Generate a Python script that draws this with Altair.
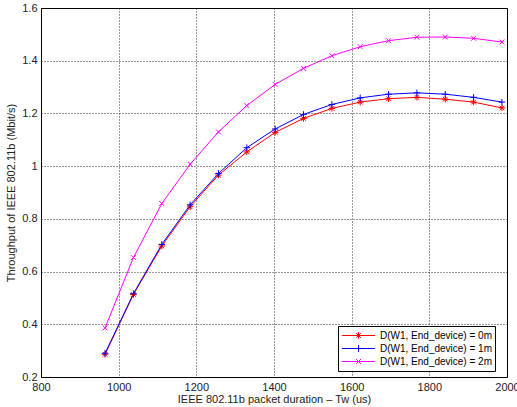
import altair as alt
import pandas as pd

# ---- data ----
x_us = [965, 1038, 1111, 1184, 1257, 1330, 1403, 1476, 1549, 1622, 1695, 1768, 1841, 1914, 1987]
thr_0m = [0.286, 0.513, 0.697, 0.846, 0.966, 1.054, 1.128, 1.181, 1.219, 1.243, 1.256, 1.261, 1.254, 1.243, 1.221]
thr_1m = [0.290, 0.516, 0.703, 0.853, 0.972, 1.070, 1.141, 1.196, 1.234, 1.259, 1.273, 1.278, 1.273, 1.261, 1.243]
thr_2m = [0.386, 0.653, 0.858, 1.007, 1.130, 1.230, 1.310, 1.371, 1.419, 1.453, 1.476, 1.489, 1.490, 1.485, 1.471]
series_names = ["D(W1, End_device) = 0m", "D(W1, End_device) = 1m", "D(W1, End_device) = 2m"]
series_colors = ["#ff0000", "#0000ff", "#ff00ff"]
x_ticks = [800, 1000, 1200, 1400, 1600, 1800, 2000]
y_ticks = [0.2, 0.4, 0.6, 0.8, 1.0, 1.2, 1.4, 1.6]

rows = []
for name, vals in zip(series_names, [thr_0m, thr_1m, thr_2m]):
    for xv, yv in zip(x_us, vals):
        rows.append({"x": xv, "y": yv, "series": name})
df = pd.DataFrame(rows)
legend_df = pd.DataFrame({"series": series_names})

# marker paths (plot) : *, +, x
star = "M-1,0H1M0,-1V1M-0.7,-0.7L0.7,0.7M-0.7,0.7L0.7,-0.7"
plus = "M-1,0H1M0,-1V1"
cross = "M-0.75,-0.75L0.75,0.75M-0.75,0.75L0.75,-0.75"
# legend paths: line sample + marker
m = 0.2
lstar = f"M-1,0H1M0,-{m}V{m}M-{m*0.7},-{m*0.7}L{m*0.7},{m*0.7}M-{m*0.7},{m*0.7}L{m*0.7},-{m*0.7}"
lplus = f"M-1,0H1M0,-{m}V{m}"
lcross = f"M-1,0H1M-{m*0.75},-{m*0.75}L{m*0.75},{m*0.75}M-{m*0.75},{m*0.75}L{m*0.75},-{m*0.75}"

FONT = "Liberation Sans"

xenc = alt.X("x:Q", scale=alt.Scale(domain=[800, 2000], nice=False, zero=False),
             axis=alt.Axis(values=x_ticks, format="d", title="IEEE 802.11b packet duration \u2013 Tw (us)",
                           titlePadding=1, labelPadding=4, labelFlush=False))
yenc = alt.Y("y:Q", scale=alt.Scale(domain=[0.2, 1.6], nice=False, zero=False),
             axis=alt.Axis(values=y_ticks, format=".1~f", title="Throughput of IEEE 802.11b (Mbit/s)",
                           titlePadding=5, labelPadding=4, labelFlush=False))
color = alt.Color("series:N", scale=alt.Scale(domain=series_names, range=series_colors), legend=None)

lines = alt.Chart(df).mark_line(strokeWidth=1).encode(x=xenc, y=yenc, color=color, detail="series:N")
points = alt.Chart(df).mark_point(filled=False, size=42, strokeWidth=1, opacity=1).encode(
    x=xenc, y=yenc, color=color,
    shape=alt.Shape("series:N", scale=alt.Scale(domain=series_names, range=[star, plus, cross]), legend=None),
)

leg = alt.Legend(title=None, orient="none", legendX=297, legendY=318,
                 strokeColor="#000", fillColor="#fff", padding=3,
                 labelFont=FONT, labelFontSize=10, labelColor="#000",
                 labelOffset=4, clipHeight=13, rowPadding=0,
                 symbolSize=1100, symbolStrokeWidth=1, symbolOpacity=1)

legend_layer = alt.Chart(legend_df).mark_point(filled=False, size=1100, strokeWidth=1, opacity=1, clip=True).encode(
    x=alt.value(-300), y=alt.value(-300),
    color=alt.Color("series:N", scale=alt.Scale(domain=series_names, range=series_colors), legend=leg),
    shape=alt.Shape("series:N", scale=alt.Scale(domain=series_names, range=[lstar, lplus, lcross]), legend=leg),
)

chart = alt.layer(lines, points, legend_layer).resolve_scale(
    shape="independent", color="independent"
).resolve_legend(color="independent", shape="independent").properties(
    width=466, height=369,
    autosize=alt.AutoSizeParams(type="none"),
    padding={"left": 41, "top": 8, "right": 10, "bottom": 30},
    background="#ffffff",
).configure_view(stroke="#000", strokeWidth=1).configure_axis(
    grid=True, gridColor="#000", gridDash=[1, 2], gridOpacity=0.8, gridWidth=1,
    ticks=False, domain=False,
    labelFont=FONT, labelFontSize=11, labelColor="#222",
    titleFont=FONT, titleFontSize=11, titleFontWeight="normal", titleColor="#222",
)

chart.save("out.html", embed_options={"renderer": "svg", "actions": False})
